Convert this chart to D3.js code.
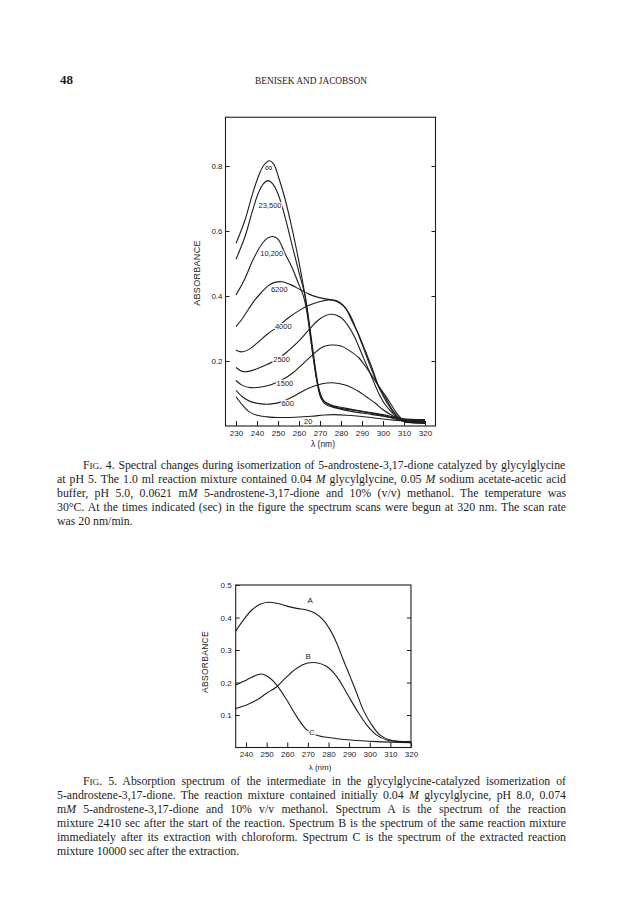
<!DOCTYPE html>
<html>
<head>
<meta charset="utf-8">
<script src="https://cdn.jsdelivr.net/npm/d3@7"></script>
<style>
  body { margin: 0; background: #fff; }
</style>
</head>
<body>
<svg id="page" width="623" height="921"></svg>
<script>
// ---- Fig. 4 data: spectra at the times (sec) shown in the figure ----
const times4 = ["20", "600", "1500", "2500", "4000", "6200", "10,200", "23,500", "∞"];

const spec20 = [[230,0.09],[233,0.065],[236,0.045],[240,0.033],[245,0.028],[250,0.026],[258,0.027],[266,0.03],[272,0.034],[277,0.035],[283,0.033],[290,0.029],[298,0.023],[305,0.018],[312,0.016],[320,0.016]];
const spec600 = [[230,0.11],[233,0.09],[237,0.075],[242,0.068],[247,0.068],[252,0.075],[257,0.09],[262,0.108],[267,0.122],[271,0.13],[276,0.133],[282,0.126],[288.5,0.106],[292,0.09],[296.4,0.07],[300,0.05],[304.5,0.032],[308,0.02],[312,0.014],[320,0.012]];
const spec1500 = [[230,0.14],[233,0.125],[237,0.118],[242,0.12],[247,0.128],[252,0.142],[257,0.163],[262,0.192],[267,0.222],[271,0.242],[275,0.249],[280,0.246],[284,0.232],[288.5,0.21],[292,0.18],[295,0.152],[298,0.122],[301.3,0.092],[304,0.065],[306,0.044],[309,0.022],[312,0.015],[320,0.015]];
const spec2500 = [[230,0.18],[233,0.168],[236,0.168],[240,0.176],[245,0.19],[250,0.206],[255,0.232],[260,0.262],[265,0.298],[270,0.33],[275,0.344],[280,0.334],[283,0.312],[286,0.28],[289,0.236],[292,0.19],[295,0.145],[298,0.1],[301,0.066],[304.5,0.04],[308,0.02],[311,0.012],[320,0.012]];
const spec4000 = [[230,0.234],[232.5,0.228],[236,0.235],[240,0.255],[245,0.283],[250,0.306],[255,0.333],[260,0.355],[265,0.372],[270,0.383],[274,0.388],[278,0.385],[281,0.372],[284,0.345],[287,0.302],[290,0.252],[293,0.2],[296,0.15],[299,0.106],[302,0.07],[305,0.042],[308,0.022],[311,0.012],[320,0.01]];
const spec6200 = [[230,0.306],[233,0.33],[236,0.36],[239,0.388],[242,0.41],[245.4,0.432],[248.5,0.442],[251.8,0.444],[256,0.435],[261,0.418],[265,0.405],[268,0.398],[272,0.392],[275.6,0.388],[279,0.38],[282.2,0.362],[285.4,0.321],[288.5,0.28],[291.7,0.229],[294.9,0.177],[297.7,0.126],[301.3,0.085],[304.5,0.049],[307.7,0.024],[311,0.013],[320,0.008]];
const spec10200 = [[230,0.403],[234,0.45],[238,0.51],[242,0.557],[245,0.578],[247.5,0.583],[250,0.575],[253.3,0.531],[256.5,0.49],[259.7,0.439],[262.2,0.398],[264,0.34],[265.5,0.27],[267,0.2],[268.5,0.14],[270,0.1],[272,0.075],[276,0.06],[282,0.052],[290,0.045],[300,0.032],[310,0.015],[320,0.01]];
const spec23500 = [[230,0.513],[234.3,0.583],[237.5,0.654],[240.6,0.716],[243,0.745],[245.4,0.755],[247.5,0.745],[250.2,0.711],[253.3,0.644],[256.5,0.562],[259.7,0.48],[262.9,0.4],[264.8,0.32],[266.5,0.24],[268,0.17],[269.5,0.115],[271.5,0.08],[275,0.065],[282,0.055],[290,0.045],[300,0.035],[310,0.022],[320,0.02]];
const specInf = [[230,0.562],[234.3,0.634],[237.5,0.706],[240.6,0.767],[243,0.8],[245.9,0.816],[248,0.805],[250.2,0.767],[253.3,0.7],[256.5,0.613],[258.9,0.54],[261,0.47],[262.9,0.4],[264.5,0.33],[266,0.25],[267.5,0.18],[269,0.12],[270.5,0.085],[273,0.065],[278,0.055],[285,0.045],[295,0.035],[305,0.025],[310,0.02],[320,0.015]];
const spectra4 = [spec20, spec600, spec1500, spec2500, spec4000, spec6200, spec10200, spec23500, specInf];

// where each time label sits (nm, absorbance)
const labelNm4 = [264.4, 254.6, 253.3, 251.7, 252.5, 250.6, 247, 246.2, 245.6];
const labelAbs4 = [0.013, 0.07, 0.131, 0.206, 0.306, 0.421, 0.531, 0.678, 0.797];

const xTicks4 = [230, 240, 250, 260, 270, 280, 290, 300, 310, 320];
const yTicks4 = [0.2, 0.4, 0.6, 0.8];

// ---- Fig. 5 data ----
const names5 = ["A", "B", "C"];
const specA = [[235,0.358],[238.7,0.392],[242.8,0.423],[246.8,0.441],[250.8,0.447],[254.9,0.444],[259.8,0.435],[264.6,0.428],[269.5,0.423],[273.5,0.413],[277.5,0.392],[280.8,0.362],[284,0.321],[287.2,0.269],[290.5,0.218],[293.7,0.167],[296.9,0.115],[301,0.069],[305,0.038],[309.9,0.023],[320,0.018]];
const specB = [[235,0.12],[240.3,0.131],[245.2,0.146],[250,0.167],[254.9,0.187],[259.8,0.218],[264.6,0.244],[269.5,0.259],[274.3,0.261],[279.2,0.249],[284,0.218],[288.9,0.167],[293.7,0.115],[298.6,0.069],[303.4,0.038],[308.3,0.023],[314.8,0.018],[320,0.015]];
const specC = [[235,0.192],[240.3,0.208],[245.2,0.223],[247.6,0.226],[251.7,0.213],[254.9,0.192],[259.8,0.146],[264.6,0.095],[269.5,0.054],[274.3,0.038],[280.8,0.03],[290.5,0.023],[303.4,0.018],[320,0.015]];
const spectra5 = [specA, specB, specC];
const labelNm5 = [271.1, 270.2, 271.9];
const labelAbs5 = [0.452, 0.282, 0.046];

const xTicks5 = [240, 250, 260, 270, 280, 290, 300, 310, 320];
const yTicks5 = [0.1, 0.2, 0.3, 0.4, 0.5];

// ---- captions ----
const caption4 = [
  [["F"], ["IG", "sc"], [". 4.  Spectral changes during isomerization of 5-androstene-3,17-dione catalyzed by glycylglycine"]],
  [["at pH 5. The 1.0 ml reaction mixture contained 0.04 "], ["M", "i"], [" glycylglycine, 0.05 "], ["M", "i"], [" sodium acetate-acetic acid"]],
  [["buffer, pH 5.0, 0.0621 m"], ["M", "i"], [" 5-androstene-3,17-dione and 10% (v/v) methanol. The temperature was"]],
  [["30°C. At the times indicated (sec) in the figure the spectrum scans were begun at 320 nm. The scan rate"]],
  [["was 20 nm/min."]]
];
const caption5 = [
  [["F"], ["IG", "sc"], [". 5. Absorption spectrum of the intermediate in the glycylglycine-catalyzed isomerization of"]],
  [["5-androstene-3,17-dione. The reaction mixture contained initially 0.04 "], ["M", "i"], [" glycylglycine, pH 8.0, 0.074"]],
  [["m"], ["M", "i"], [" 5-androstene-3,17-dione and 10% v/v methanol. Spectrum A is the spectrum of the reaction"]],
  [["mixture 2410 sec after the start of the reaction. Spectrum B is the spectrum of the same reaction mixture"]],
  [["immediately after its extraction with chloroform. Spectrum C is the spectrum of the extracted reaction"]],
  [["mixture 10000 sec after the extraction."]]
];

const ink = "#1d1d1d";
const sans = "Liberation Sans, Arial, sans-serif";
const serif = "Liberation Serif, Times New Roman, serif";
const svg = d3.select("#page");

// page header
svg.append("text")
    .attr("x", 60).attr("y", 84)
    .attr("font-family", serif).attr("font-weight", "bold").attr("font-size", 13)
    .attr("fill", ink)
    .text("48");
svg.append("text")
    .attr("x", 255).attr("y", 84)
    .attr("font-family", serif).attr("font-size", 9.5)
    .attr("textLength", 112).attr("lengthAdjust", "spacingAndGlyphs")
    .attr("fill", ink)
    .text("BENISEK AND JACOBSON");

function drawPanel(p) {
    const x = d3.scaleLinear().domain(p.xDomain).range([p.left, p.right]);
    const y = d3.scaleLinear().domain(p.yDomain).range([p.bottom, p.top]);
    const g = svg.append("g");

    // frame
    g.append("rect")
        .attr("x", p.left).attr("y", p.top)
        .attr("width", p.right - p.left).attr("height", p.bottom - p.top)
        .attr("fill", "none").attr("stroke", ink).attr("stroke-width", 1.1);

    const bottomAxis = g.append("g")
        .attr("transform", `translate(0,${p.bottom})`)
        .call(d3.axisBottom(x).tickValues(p.xTicks).tickSize(-5).tickPadding(4).tickFormat(d3.format("d")));
    const leftAxis = g.append("g")
        .attr("transform", `translate(${p.left},0)`)
        .call(d3.axisLeft(y).tickValues(p.yTicks).tickSize(-4).tickPadding(p.yPad).tickFormat(d3.format(".1f")));
    const rightAxis = g.append("g")
        .attr("transform", `translate(${p.right},0)`)
        .call(d3.axisRight(y).tickValues(p.yTicks.filter(v => v < p.yDomain[1])).tickSize(-4).tickFormat(""));

    [bottomAxis, leftAxis, rightAxis].forEach(a => {
        a.select(".domain").remove();
        a.selectAll("line").attr("stroke", ink).attr("stroke-width", 1);
        a.selectAll("text")
            .attr("fill", ink).attr("font-family", sans).attr("font-size", p.tickFont);
    });

    // axis titles
    g.append("text")
        .attr("transform", `translate(${p.yTitleX},${p.yTitleY}) rotate(-90)`)
        .attr("text-anchor", "middle")
        .attr("font-family", sans).attr("font-size", p.titleFont)
        .attr("letter-spacing", 0.3)
        .attr("fill", ink)
        .text("ABSORBANCE");
    g.append("text")
        .attr("x", p.xTitleX).attr("y", p.xTitleY)
        .attr("text-anchor", "middle")
        .attr("font-family", sans).attr("font-size", p.titleFont - 0.5)
        .attr("fill", ink)
        .text("λ (nm)");

    const line = d3.line()
        .x(d => x(d[0]))
        .y(d => y(d[1]))
        .curve(d3.curveCatmullRom.alpha(0.5));

    g.append("g")
        .selectAll("path")
        .data(p.spectra)
        .join("path")
        .attr("d", line)
        .attr("fill", "none")
        .attr("stroke", ink)
        .attr("stroke-width", 1.1);

    g.append("g")
        .selectAll("text")
        .data(p.names)
        .join("text")
        .attr("x", (d, i) => x(p.labelNm[i]))
        .attr("y", (d, i) => y(p.labelAbs[i]))
        .attr("dy", "0.35em")
        .attr("text-anchor", "middle")
        .attr("font-family", sans)
        .attr("font-size", d => d === "∞" ? p.labelFont + 3 : p.labelFont)
        .attr("fill", ink)
        .attr("stroke", "#fff").attr("stroke-width", 2.5)
        .attr("paint-order", "stroke")
        .text(d => d);
}

drawPanel({
    xDomain: [225, 325], yDomain: [0, 0.95],
    left: 225.5, right: 435.5, top: 117.25, bottom: 426,
    xTicks: xTicks4, yTicks: yTicks4, yPad: 3,
    tickFont: 8, titleFont: 9, labelFont: 7.5,
    yTitleX: 200, yTitleY: 273, xTitleX: 323, xTitleY: 447,
    spectra: spectra4, names: times4, labelNm: labelNm4, labelAbs: labelAbs4
});

drawPanel({
    xDomain: [235, 320], yDomain: [0, 0.5],
    left: 235.7, right: 411, top: 585, bottom: 747.5,
    xTicks: xTicks5, yTicks: yTicks5, yPad: 4,
    tickFont: 8, titleFont: 8.5, labelFont: 8,
    yTitleX: 208, yTitleY: 662, xTitleX: 320, xTitleY: 770,
    spectra: spectra5, names: names5, labelNm: labelNm5, labelAbs: labelAbs5
});

// captions, justified between the margins
function drawCaption(lines, top) {
    const leftEdge = 57, rightEdge = 566, indent = 83, lead = 14;
    lines.forEach((segs, i) => {
        const x0 = i === 0 ? indent : leftEdge;
        const t = svg.append("text")
            .attr("x", x0).attr("y", top + i * lead)
            .attr("font-family", serif).attr("font-size", 11.8)
            .attr("fill", ink);
        segs.forEach(s => {
            const ts = t.append("tspan").text(s[0]);
            if (s[1] === "i") ts.attr("font-style", "italic");
            if (s[1] === "sc") ts.attr("font-size", 9.2);
        });
        if (i < lines.length - 1) {
            const w = t.node().getComputedTextLength();
            const spaces = segs.map(s => s[0]).join("").split(" ").length - 1;
            t.attr("word-spacing", ((rightEdge - x0) - w) / spaces);
        }
    });
}

drawCaption(caption4, 469);
drawCaption(caption5, 785);
</script>
</body>
</html>
